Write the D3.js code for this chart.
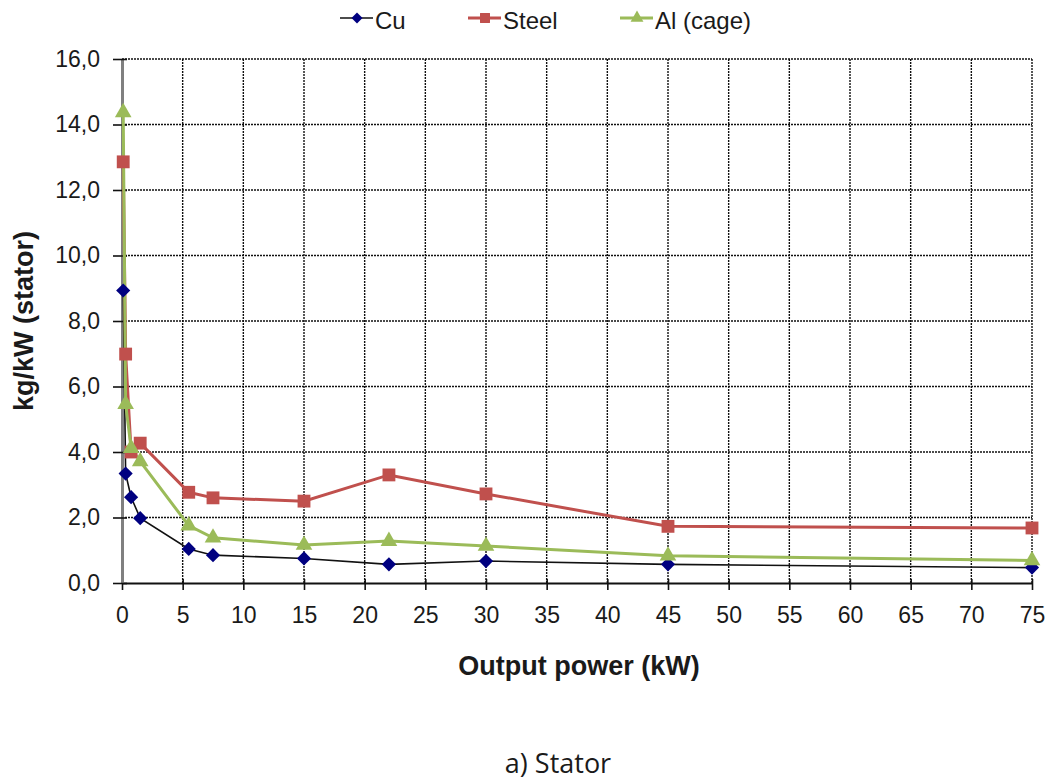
<!DOCTYPE html>
<html>
<head>
<meta charset="utf-8">
<script src="https://cdn.jsdelivr.net/npm/d3@7"></script>
<style>
  body { margin: 0; background: #fff; }
  svg text { font-family: "Liberation Sans", Arial, sans-serif; fill: #1a1a1a; }
</style>
</head>
<body>
<svg id="chart" width="1055" height="781"></svg>
<script>
// values
const power = [0.1, 0.3, 0.75, 1.5, 5.5, 7.5, 15, 22, 30, 45, 75];
const cu    = [8.93, 3.34, 2.62, 1.98, 1.04, 0.85, 0.75, 0.57, 0.67, 0.57, 0.47];
const steel = [12.86, 6.99, 4.0, 4.27, 2.77, 2.6, 2.5, 3.3, 2.72, 1.73, 1.68];
const alCage = [14.37, 5.46, 4.12, 3.71, 1.75, 1.38, 1.16, 1.28, 1.13, 0.83, 0.69];
const xTicks = d3.range(0, 80, 5);
const yTicks = d3.range(0, 18, 2);

let svg = d3.select('#chart');
let margins = {left: 122, right: 1032, top: 59, bottom: 583};

let xScale = d3.scaleLinear().domain([0, 75]).range([margins.left, margins.right]);
let yScale = d3.scaleLinear().domain([0, 16]).range([margins.bottom, margins.top]);

// comma decimal for the y labels
let fmt = d3.formatLocale({decimal: ',', thousands: '.', grouping: [3], currency: ['', '']}).format('.1f');

// grid - dashed lines
let grid = svg.append('g');
grid.selectAll('.vgrid')
    .data(xTicks.slice(1))
    .enter()
        .append('line')
        .attr('x1', d => xScale(d)).attr('x2', d => xScale(d))
        .attr('y1', margins.top).attr('y2', margins.bottom)
        .attr('stroke', '#111')
        .attr('stroke-width', 1.4)
        .attr('stroke-dasharray', '2,1');
grid.selectAll('.hgrid')
    .data(yTicks.slice(1))
    .enter()
        .append('line')
        .attr('x1', margins.left).attr('x2', margins.right)
        .attr('y1', d => yScale(d)).attr('y2', d => yScale(d))
        .attr('stroke', '#111')
        .attr('stroke-width', 1.4)
        .attr('stroke-dasharray', '2,1');

// axes
let xAxis = svg.append('g')
    .attr('transform', 'translate(0,' + margins.bottom + ')')
    .call(d3.axisBottom(xScale).tickValues(xTicks).tickSize(7).tickSizeOuter(0).tickPadding(17).tickFormat(d3.format('d')));
xAxis.select('.domain').attr('stroke', '#111').attr('stroke-width', 2);
xAxis.selectAll('.tick line').attr('stroke', '#111').attr('stroke-width', 1.6).attr('y1', -4);
xAxis.selectAll('text').style('font-size', '23px').attr('fill', '#1a1a1a');

let yAxis = svg.append('g')
    .attr('transform', 'translate(' + margins.left + ',0)')
    .call(d3.axisLeft(yScale).tickValues(yTicks).tickSize(9).tickSizeOuter(0).tickPadding(13).tickFormat(fmt));
yAxis.select('.domain').attr('stroke', '#808080').attr('stroke-width', 3);
yAxis.selectAll('.tick line').attr('stroke', '#111').attr('stroke-width', 1.6).attr('x1', 5);
yAxis.selectAll('text').style('font-size', '23px').attr('fill', '#1a1a1a');

// series - the Cu diamond is a square turned 45 degrees
let series = [
    {name: 'Cu', values: cu, line: '#111111', lw: 1.6, mark: '#000080', sym: d3.symbolSquare, size: 100, rot: 45},
    {name: 'Steel', values: steel, line: '#C0504D', lw: 3, mark: '#C0504D', sym: d3.symbolSquare, size: 165, rot: 0},
    {name: 'Al (cage)', values: alCage, line: '#9BBB59', lw: 3, mark: '#9BBB59', sym: d3.symbolTriangle, size: 120, rot: 0}
];

let line = d3.line()
    .x((d, i) => xScale(power[i]))
    .y(d => yScale(d));

let plot = svg.append('g');
series.forEach(s => {
    plot.append('path')
        .datum(s.values)
        .attr('d', line)
        .attr('fill', 'none')
        .attr('stroke', s.line)
        .attr('stroke-width', s.lw);
});
series.forEach(s => {
    plot.selectAll(null)
        .data(s.values)
        .enter()
            .append('path')
            .attr('d', d3.symbol().type(s.sym).size(s.size))
            .attr('transform', (d, i) => 'translate(' + xScale(power[i]) + ',' + yScale(d) + ') rotate(' + s.rot + ')')
            .attr('fill', s.mark);
});

// legend
let legendX = [340, 468, 620];
let legend = svg.append('g');
series.forEach((s, i) => {
    let g = legend.append('g').attr('transform', 'translate(' + legendX[i] + ',18)');
    g.append('line')
        .attr('x1', 0).attr('x2', 33)
        .attr('stroke', s.line)
        .attr('stroke-width', s.lw);
    g.append('path')
        .attr('d', d3.symbol().type(s.sym).size(s.size * 0.6))
        .attr('transform', 'translate(17,0) rotate(' + s.rot + ')')
        .attr('fill', s.mark);
    g.append('text')
        .attr('x', 35)
        .attr('y', 2)
        .attr('dy', '0.36em')
        .style('font-size', '24px')
        .text(s.name);
});

// axis titles
svg.append('text')
    .attr('transform', 'rotate(-90)')
    .attr('x', -321)
    .attr('y', 23)
    .attr('dy', '0.36em')
    .style('text-anchor', 'middle')
    .style('font-size', '27px')
    .style('font-weight', 'bold')
    .text('kg/kW (stator)');
svg.append('text')
    .attr('x', 579)
    .attr('y', 675)
    .style('text-anchor', 'middle')
    .style('font-size', '27px')
    .style('font-weight', 'bold')
    .text('Output power (kW)');

// caption
svg.append('text')
    .attr('x', 558)
    .attr('y', 773)
    .style('text-anchor', 'middle')
    .style('font-size', '27px')
    .style('font-family', '"Open Sans", sans-serif')
    .text('a) Stator');
</script>
</body>
</html>
